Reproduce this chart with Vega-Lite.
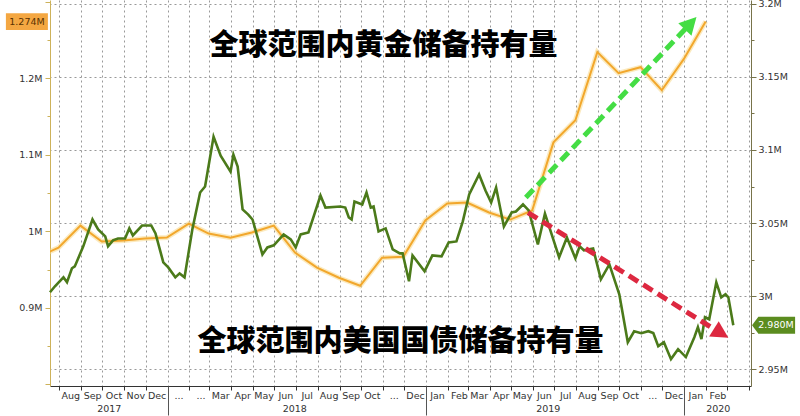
{
  "$schema": "https://vega.github.io/schema/vega-lite/v6.json",
  "width": 701,
  "height": 386,
  "autosize": {"type": "none"},
  "padding": {"left": 50, "top": 0, "right": 49, "bottom": 30},
  "background": "white",
  "config": {
    "view": {"stroke": null},
    "axis": {"labelFont": "DejaVu Sans", "labelFontSize": 9.5, "labelColor": "#333", "title": null}
  },
  "datasets": {
    "gold": [
      {"date": "2017-06-30", "v": 0.9655}, {"date": "2017-07-31", "v": 0.9786}, {"date": "2017-08-31", "v": 1.0074},
      {"date": "2017-09-30", "v": 0.9865}, {"date": "2017-10-31", "v": 0.9878}, {"date": "2017-11-30", "v": 0.9904},
      {"date": "2017-12-31", "v": 0.9917}, {"date": "2018-01-31", "v": 1.0101}, {"date": "2018-02-28", "v": 0.9970},
      {"date": "2018-03-31", "v": 0.9917}, {"date": "2018-04-30", "v": 0.9983}, {"date": "2018-05-31", "v": 1.0074},
      {"date": "2018-06-30", "v": 0.9721}, {"date": "2018-07-31", "v": 0.9524}, {"date": "2018-08-31", "v": 0.9393},
      {"date": "2018-09-30", "v": 0.9288}, {"date": "2018-10-31", "v": 0.9655}, {"date": "2018-11-30", "v": 0.9668},
      {"date": "2018-12-31", "v": 1.0140}, {"date": "2019-01-31", "v": 1.0363}, {"date": "2019-02-28", "v": 1.0376},
      {"date": "2019-03-31", "v": 1.0245}, {"date": "2019-04-30", "v": 1.0153}, {"date": "2019-05-31", "v": 1.0271},
      {"date": "2019-06-30", "v": 1.1162}, {"date": "2019-07-31", "v": 1.1450}, {"date": "2019-08-31", "v": 1.2341},
      {"date": "2019-09-30", "v": 1.2066}, {"date": "2019-10-31", "v": 1.2144}, {"date": "2019-11-30", "v": 1.1843},
      {"date": "2019-12-31", "v": 1.2249}, {"date": "2020-01-31", "v": 1.274}
    ],
    "ust": [
      {"date": "2017-07-19", "v": 3.0026}, {"date": "2017-07-26", "v": 3.0067}, {"date": "2017-08-07", "v": 3.0128},
      {"date": "2017-08-12", "v": 3.0094}, {"date": "2017-08-19", "v": 3.0190}, {"date": "2017-08-23", "v": 3.0203},
      {"date": "2017-09-04", "v": 3.0340}, {"date": "2017-09-17", "v": 3.0524}, {"date": "2017-09-25", "v": 3.0456},
      {"date": "2017-10-05", "v": 3.0408}, {"date": "2017-10-09", "v": 3.0340}, {"date": "2017-10-16", "v": 3.0381},
      {"date": "2017-10-23", "v": 3.0394}, {"date": "2017-11-02", "v": 3.0394}, {"date": "2017-11-08", "v": 3.0463},
      {"date": "2017-11-13", "v": 3.0415}, {"date": "2017-11-26", "v": 3.0483}, {"date": "2017-12-09", "v": 3.0483},
      {"date": "2017-12-15", "v": 3.0429}, {"date": "2017-12-26", "v": 3.0231}, {"date": "2018-01-02", "v": 3.0196},
      {"date": "2018-01-12", "v": 3.0128}, {"date": "2018-01-18", "v": 3.0155}, {"date": "2018-01-25", "v": 3.0128},
      {"date": "2018-02-05", "v": 3.0456}, {"date": "2018-02-16", "v": 3.0709}, {"date": "2018-02-23", "v": 3.0750},
      {"date": "2018-03-07", "v": 3.1091}, {"date": "2018-03-17", "v": 3.0961}, {"date": "2018-03-31", "v": 3.0852},
      {"date": "2018-04-04", "v": 3.0968}, {"date": "2018-04-10", "v": 3.0886}, {"date": "2018-04-17", "v": 3.0593},
      {"date": "2018-04-25", "v": 3.0558}, {"date": "2018-05-01", "v": 3.0524}, {"date": "2018-05-15", "v": 3.0285},
      {"date": "2018-05-22", "v": 3.0333}, {"date": "2018-05-31", "v": 3.0347}, {"date": "2018-06-14", "v": 3.0422},
      {"date": "2018-06-24", "v": 3.0388}, {"date": "2018-07-01", "v": 3.0333}, {"date": "2018-07-08", "v": 3.0422},
      {"date": "2018-07-19", "v": 3.0435}, {"date": "2018-08-05", "v": 3.0688}, {"date": "2018-08-12", "v": 3.0606},
      {"date": "2018-09-02", "v": 3.0613}, {"date": "2018-09-09", "v": 3.0606}, {"date": "2018-09-14", "v": 3.0538},
      {"date": "2018-09-18", "v": 3.0524}, {"date": "2018-09-22", "v": 3.0647}, {"date": "2018-10-03", "v": 3.0627},
      {"date": "2018-10-09", "v": 3.0709}, {"date": "2018-10-15", "v": 3.0606}, {"date": "2018-10-19", "v": 3.0613},
      {"date": "2018-10-26", "v": 3.0442}, {"date": "2018-11-05", "v": 3.0463}, {"date": "2018-11-15", "v": 3.0319},
      {"date": "2018-11-25", "v": 3.0292}, {"date": "2018-11-29", "v": 3.0292}, {"date": "2018-12-08", "v": 3.0101},
      {"date": "2018-12-13", "v": 3.0278}, {"date": "2018-12-30", "v": 3.0169}, {"date": "2019-01-10", "v": 3.0278},
      {"date": "2019-01-23", "v": 3.0272}, {"date": "2019-02-02", "v": 3.0367}, {"date": "2019-02-13", "v": 3.0374},
      {"date": "2019-02-22", "v": 3.0511}, {"date": "2019-03-03", "v": 3.0695}, {"date": "2019-03-17", "v": 3.0832},
      {"date": "2019-03-26", "v": 3.0722}, {"date": "2019-04-03", "v": 3.0640}, {"date": "2019-04-10", "v": 3.0743},
      {"date": "2019-04-21", "v": 3.0476}, {"date": "2019-05-02", "v": 3.0572}, {"date": "2019-05-08", "v": 3.0579},
      {"date": "2019-05-18", "v": 3.0627}, {"date": "2019-05-26", "v": 3.0586}, {"date": "2019-06-08", "v": 3.0354},
      {"date": "2019-06-18", "v": 3.0565}, {"date": "2019-07-08", "v": 3.0265}, {"date": "2019-07-19", "v": 3.0401},
      {"date": "2019-07-31", "v": 3.0258}, {"date": "2019-08-06", "v": 3.0340}, {"date": "2019-08-12", "v": 3.0313},
      {"date": "2019-08-25", "v": 3.0326}, {"date": "2019-09-05", "v": 3.0114}, {"date": "2019-09-17", "v": 3.0217},
      {"date": "2019-10-01", "v": 3.0012}, {"date": "2019-10-13", "v": 2.9684}, {"date": "2019-10-22", "v": 2.9759},
      {"date": "2019-11-01", "v": 2.9746}, {"date": "2019-11-11", "v": 2.9759}, {"date": "2019-11-18", "v": 2.9746},
      {"date": "2019-11-25", "v": 2.9657}, {"date": "2019-12-03", "v": 2.9684}, {"date": "2019-12-13", "v": 2.9568},
      {"date": "2019-12-23", "v": 2.9636}, {"date": "2020-01-03", "v": 2.9582}, {"date": "2020-01-15", "v": 2.9718},
      {"date": "2020-01-20", "v": 2.9787}, {"date": "2020-01-25", "v": 2.9705}, {"date": "2020-01-30", "v": 2.9855},
      {"date": "2020-02-05", "v": 2.9841}, {"date": "2020-02-15", "v": 3.0094}, {"date": "2020-02-22", "v": 2.9991},
      {"date": "2020-02-28", "v": 3.0012}, {"date": "2020-03-03", "v": 2.9991}, {"date": "2020-03-10", "v": 2.9800}
    ],
    "notes": [
      {"text": "全球范围内黄金储备持有量", "date": "2018-11-02", "v": 1.2419},
      {"text": "全球范围内美国国债储备持有量", "date": "2018-11-26", "v": 0.8555}
    ],
    "arrows": [
      {"arrow": "g", "date": "2019-05-22", "v": 1.0441},
      {"arrow": "g", "date": "2020-01-06", "v": 1.2681},
      {"arrow": "r", "date": "2019-05-25", "v": 1.0245},
      {"arrow": "r", "date": "2020-02-18", "v": 0.8686}
    ],
    "heads": [
      {"arrow": "g", "date": "2020-01-18", "v": 1.2799},
      {"arrow": "r", "date": "2020-03-03", "v": 0.8607}
    ],
    "tags": [
      {"side": "L", "v": 1.274, "label": "1.274M"},
      {"side": "R", "v": 2.98, "label": "2.980M"}
    ]
  },
  "resolve": {"scale": {"y": "independent", "x": "shared"}, "axis": {"x": "independent", "y": "independent"}},
  "layer": [
    {
      "data": {"name": "gold"},
      "mark": {"type": "line", "stroke": "#f8d98a", "strokeWidth": 5, "opacity": 0.55, "clip": true},
      "encoding": {
        "x": {"field": "date", "type": "temporal", "scale": {"domain": [{"year": 2017, "month": 7, "date": 19}, {"year": 2020, "month": 4, "date": 4}]}, "axis": null},
        "y": {"field": "v", "type": "quantitative", "scale": {"domain": [0.7978, 1.3022], "zero": false, "nice": false}, "axis": null}
      }
    },
    {
      "data": {"name": "gold"},
      "mark": {"type": "line", "stroke": "#f2a72c", "strokeWidth": 2, "clip": true},
      "encoding": {
        "x": {
          "field": "date", "type": "temporal",
          "scale": {"domain": [{"year": 2017, "month": 7, "date": 19}, {"year": 2020, "month": 4, "date": 4}]},
          "axis": {
            "orient": "bottom",
            "tickCount": {"interval": "month", "step": 1},
            "labelExpr": "(year(datum.value)==2018 && month(datum.value)<2) || (year(datum.value)>2017 && month(datum.value)==10) ? '...' : (year(datum.value)==2020 && month(datum.value)>1 ? '' : timeFormat(datum.value, '%b'))",
            "labelOffset": 11,
            "labelOverlap": false,
            "labelFlush": false,
            "labelPadding": 0,
            "grid": true,
            "gridDash": [2, 3],
            "gridColor": "#999",
            "domainColor": "#333",
            "tickColor": "#333",
            "tickSize": 4
          }
        },
        "y": {
          "field": "v", "type": "quantitative",
          "scale": {"domain": [0.7978, 1.3022], "zero": false, "nice": false},
          "axis": {
            "orient": "left",
            "values": [0.8, 0.85, 0.9, 0.95, 1, 1.05, 1.1, 1.15, 1.2, 1.25, 1.3],
            "labelExpr": "(abs(datum.value*10-round(datum.value*10))>0.01 || datum.value<0.85 || datum.value>1.25) ? '' : format(datum.value, '~g') + 'M'",
            "grid": false,
            "domainColor": "#cdb25a",
            "tickColor": "#cdb25a",
            "tickSize": {"condition": {"test": "abs(datum.value*10-round(datum.value*10))>0.01", "value": 3}, "value": 5},
            "labelPadding": 3
          }
        }
      }
    },
    {
      "data": {"name": "ust"},
      "mark": {"type": "line", "stroke": "#4b7a1a", "strokeWidth": 2.6},
      "encoding": {
        "x": {
          "field": "date", "type": "temporal",
          "scale": {"domain": [{"year": 2017, "month": 7, "date": 19}, {"year": 2020, "month": 4, "date": 4}]},
          "axis": {
            "orient": "bottom",
            "values": [{"year": 2017, "month": 10, "date": 10}, {"year": 2018, "month": 6, "date": 29}, {"year": 2019, "month": 6, "date": 22}, {"year": 2020, "month": 2, "date": 17}],
            "labelExpr": "timeFormat(datum.value, '%Y')",
            "ticks": false,
            "tickSize": 0,
            "domain": false,
            "grid": false,
            "labelPadding": 17,
            "labelOverlap": false,
            "labelFlush": false
          }
        },
        "y": {
          "field": "v", "type": "quantitative",
          "scale": {"domain": [2.9384, 3.2027], "zero": false, "nice": false},
          "axis": {
            "orient": "right",
            "values": [2.95, 2.975, 3, 3.025, 3.05, 3.075, 3.1, 3.125, 3.15, 3.175, 3.2],
            "labelExpr": "abs(datum.value*20-round(datum.value*20))>0.01 ? '' : format(datum.value, '~g') + 'M'",
            "grid": true,
            "gridDash": [2, 3],
            "gridColor": "#999",
            "gridOpacity": {"condition": {"test": "abs(datum.value*20-round(datum.value*20))>0.01", "value": 0}, "value": 1},
            "domainColor": "#77734a",
            "tickColor": "#77734a",
            "tickSize": {"condition": {"test": "abs(datum.value*20-round(datum.value*20))>0.01", "value": 3}, "value": 5},
            "labelPadding": 2
          }
        }
      }
    },
    {
      "data": {"name": "notes"},
      "mark": {"type": "text", "font": "Noto Sans CJK SC", "fontSize": 29, "fontWeight": 900, "color": "#000", "align": "center", "baseline": "middle"},
      "encoding": {
        "x": {
          "field": "date", "type": "temporal",
          "scale": {"domain": [{"year": 2017, "month": 7, "date": 19}, {"year": 2020, "month": 4, "date": 4}]},
          "axis": {
            "orient": "bottom",
            "values": [{"year": 2018, "month": 1, "date": 1}, {"year": 2019, "month": 1, "date": 1}, {"year": 2020, "month": 1, "date": 1}],
            "labels": false,
            "domain": false,
            "grid": false,
            "ticks": true,
            "tickSize": 29,
            "tickColor": "#555"
          }
        },
        "y": {"field": "v", "type": "quantitative", "scale": {"domain": [0.7978, 1.3022], "zero": false, "nice": false}, "axis": null},
        "text": {"field": "text"}
      }
    },
    {
      "data": {"name": "arrows"},
      "mark": {"type": "line", "strokeWidth": 5, "strokeDash": [11, 6], "strokeCap": "butt"},
      "encoding": {
        "x": {"field": "date", "type": "temporal", "scale": {"domain": [{"year": 2017, "month": 7, "date": 19}, {"year": 2020, "month": 4, "date": 4}]}, "axis": null},
        "y": {"field": "v", "type": "quantitative", "scale": {"domain": [0.7978, 1.3022], "zero": false, "nice": false}, "axis": null},
        "color": {"field": "arrow", "type": "nominal", "scale": {"domain": ["g", "r"], "range": ["#44dd44", "#dd2840"]}, "legend": null}
      }
    },
    {
      "data": {"name": "heads"},
      "transform": [{"filter": "datum.arrow == 'g'"}],
      "mark": {"type": "point", "shape": "M0,0L0.9,1.7L-0.9,1.7Z", "size": 400, "angle": 43, "filled": true, "fill": "#44dd44", "opacity": 1, "strokeWidth": 0},
      "encoding": {
        "x": {"field": "date", "type": "temporal", "scale": {"domain": [{"year": 2017, "month": 7, "date": 19}, {"year": 2020, "month": 4, "date": 4}]}, "axis": null},
        "y": {"field": "v", "type": "quantitative", "scale": {"domain": [0.7978, 1.3022], "zero": false, "nice": false}, "axis": null}
      }
    },
    {
      "data": {"name": "heads"},
      "transform": [{"filter": "datum.arrow == 'r'"}],
      "mark": {"type": "point", "shape": "M0,0L0.9,1.7L-0.9,1.7Z", "size": 400, "angle": 122, "filled": true, "fill": "#dd2840", "opacity": 1, "strokeWidth": 0},
      "encoding": {
        "x": {"field": "date", "type": "temporal", "scale": {"domain": [{"year": 2017, "month": 7, "date": 19}, {"year": 2020, "month": 4, "date": 4}]}, "axis": null},
        "y": {"field": "v", "type": "quantitative", "scale": {"domain": [0.7978, 1.3022], "zero": false, "nice": false}, "axis": null}
      }
    },
    {
      "data": {"name": "tags"},
      "transform": [{"filter": "datum.side == 'L'"}],
      "mark": {"type": "point", "shape": "M-4.2,-0.8H-0.2V0.8H-4.2Z", "size": 441, "filled": true, "fill": "#f4a742", "opacity": 1, "strokeWidth": 0},
      "encoding": {
        "x": {"datum": {"year": 2017, "month": 7, "date": 19}, "type": "temporal", "scale": {"domain": [{"year": 2017, "month": 7, "date": 19}, {"year": 2020, "month": 4, "date": 4}]}, "axis": null},
        "y": {"field": "v", "type": "quantitative", "scale": {"domain": [0.7978, 1.3022], "zero": false, "nice": false}, "axis": null}
      }
    },
    {
      "data": {"name": "tags"},
      "transform": [{"filter": "datum.side == 'L'"}],
      "mark": {"type": "text", "font": "DejaVu Sans", "fontSize": 9.5, "color": "#5a3200", "align": "center", "baseline": "middle", "dx": -23},
      "encoding": {
        "x": {"datum": {"year": 2017, "month": 7, "date": 19}, "type": "temporal", "scale": {"domain": [{"year": 2017, "month": 7, "date": 19}, {"year": 2020, "month": 4, "date": 4}]}, "axis": null},
        "y": {"field": "v", "type": "quantitative", "scale": {"domain": [0.7978, 1.3022], "zero": false, "nice": false}, "axis": null},
        "text": {"field": "label"}
      }
    },
    {
      "data": {"name": "tags"},
      "transform": [{"filter": "datum.side == 'R'"}],
      "mark": {"type": "point", "shape": "M0.1,0L0.7,-0.8H4.2V0.8H0.7Z", "size": 441, "filled": true, "fill": "#5b8c1f", "opacity": 1, "strokeWidth": 0},
      "encoding": {
        "x": {"datum": {"year": 2020, "month": 4, "date": 4}, "type": "temporal", "scale": {"domain": [{"year": 2017, "month": 7, "date": 19}, {"year": 2020, "month": 4, "date": 4}]}, "axis": null},
        "y": {"field": "v", "type": "quantitative", "scale": {"domain": [2.9384, 3.2027], "zero": false, "nice": false}, "axis": null}
      }
    },
    {
      "data": {"name": "tags"},
      "transform": [{"filter": "datum.side == 'R'"}],
      "mark": {"type": "text", "font": "DejaVu Sans", "fontSize": 9.5, "color": "#ffffff", "align": "center", "baseline": "middle", "dx": 25},
      "encoding": {
        "x": {"datum": {"year": 2020, "month": 4, "date": 4}, "type": "temporal", "scale": {"domain": [{"year": 2017, "month": 7, "date": 19}, {"year": 2020, "month": 4, "date": 4}]}, "axis": null},
        "y": {"field": "v", "type": "quantitative", "scale": {"domain": [2.9384, 3.2027], "zero": false, "nice": false}, "axis": null},
        "text": {"field": "label"}
      }
    }
  ]
}
